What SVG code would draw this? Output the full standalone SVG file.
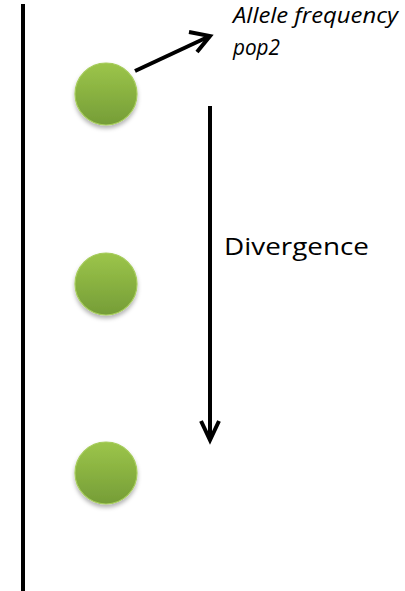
<svg xmlns="http://www.w3.org/2000/svg" width="405" height="591" viewBox="0 0 405 591">
<style>
.ln{stroke:#000;stroke-width:4;fill:none}
.dot{fill:url(#g);stroke:#a6cc5c;stroke-width:1.2;filter:url(#sh)}
.t{font-family:"Open Sans","Liberation Sans",sans-serif;fill:#000}
</style>
<defs>
<linearGradient id="g" x1="0" y1="0" x2="0" y2="1">
<stop offset="0" stop-color="#9cc54a"/>
<stop offset="1" stop-color="#759d37"/>
</linearGradient>
<filter id="sh" x="-30%" y="-30%" width="160%" height="170%">
<feDropShadow dx="0" dy="3" stdDeviation="2" flood-color="#000" flood-opacity="0.3"/>
</filter>
</defs>
<rect width="405" height="591" fill="#fff"/>
<g id="axis"><line class="ln" x1="23" y1="4" x2="23" y2="591"/></g>
<g id="pop1"><circle class="dot" cx="106" cy="94" r="31"/></g>
<g id="pop2"><circle class="dot" cx="106" cy="284" r="31"/></g>
<g id="pop3"><circle class="dot" cx="106" cy="473" r="31"/></g>
<g id="connectors">
<line class="ln" x1="135" y1="71" x2="210" y2="36"/>
<path class="ln" d="M189,32 L210,36 L197,52"/>
<line class="ln" x1="210" y1="106" x2="210" y2="440"/>
<path class="ln" d="M201,421 L210,440 L219,421"/>
</g>
<g id="labels">
<text class="t" x="233" y="23" font-size="21" font-style="italic" textLength="165" lengthAdjust="spacingAndGlyphs">Allele frequency</text>
<text class="t" x="233" y="55" font-size="21" font-style="italic" textLength="47" lengthAdjust="spacingAndGlyphs">pop2</text>
<text class="t" x="224" y="255" font-size="24" textLength="145" lengthAdjust="spacingAndGlyphs">Divergence</text>
</g>
</svg>
